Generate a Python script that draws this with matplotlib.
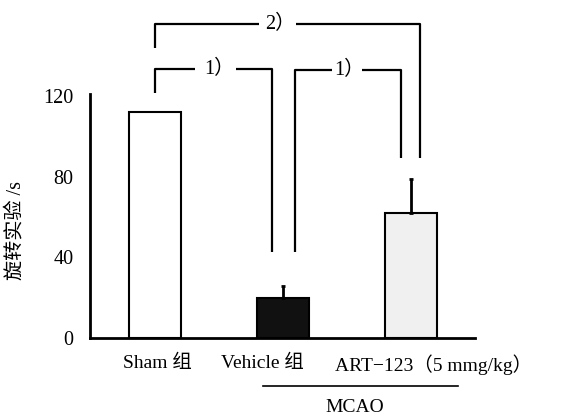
import numpy as np
import matplotlib
matplotlib.use('Agg')
import matplotlib.pyplot as plt

plt.rcParams['font.family'] = ['Liberation Serif', 'Noto Sans CJK SC', 'DejaVu Sans']

groups = ['Sham 组', 'Vehicle 组', 'ART−123（5 mmg/kg）']
means = [112, 20, 62]
errors = [0, 6, 17]
colors = ['white', '#111111', '#f0f0f0']
yticks = [0, 40, 80, 120]

fig = plt.figure(figsize=(5.65, 4.16), dpi=100)
ax = fig.add_axes([90/565, 78/416, 385/565, 244/416])

x = np.arange(len(groups))
ax.bar(x, means, width=0.406, color=colors, edgecolor='black', linewidth=1.5, zorder=2)
ax.errorbar(x[1:], means[1:], yerr=[[0, 0], errors[1:]], fmt='none',
            ecolor='black', elinewidth=2, capsize=1.5, capthick=2, zorder=3)

ax.set_xlim(-0.508, 2.5)
ax.set_ylim(0, 121)
ax.set_yticks(yticks)
ax.set_yticklabels([str(t) for t in yticks], fontsize=14.5)
ax.set_xticks([0.02, 0.84, 2.18])
ax.set_xticklabels(groups, fontsize=14)
ax.tick_params(axis='y', length=0, pad=12)
ax.tick_params(axis='x', length=0, pad=12)
for s in ['top', 'right']:
    ax.spines[s].set_visible(False)
ax.spines['left'].set_linewidth(2)
ax.spines['bottom'].set_linewidth(2)
fig.text(16/565, 1 - 230/416, '旋转实验 /s', fontsize=14.5, rotation=90,
         ha='center', va='center')

# significance brackets: (x0, y0, x1, y1, top, gap_left, gap_right, label, label_x)
def bracket(x0, y0, x1, y1, top, gl, gr, label, lx):
    kw = dict(color='black', lw=1.6, clip_on=False, solid_capstyle='butt')
    ax.plot([x0, x0, gl], [y0, top, top], **kw)
    ax.plot([gr, x1, x1], [top, top, y1], **kw)
    ax.text(lx, top, label, ha='center', va='center', fontsize=14.5)

bracket(0, 121.5, 0.914, 42.6, 133.4, 0.3125, 0.633, '1）', 0.50)
bracket(1.094, 42.6, 1.922, 89.2, 132.9, 1.383, 1.617, '1）', 1.52)
bracket(0, 143.8, 2.07, 89.2, 155.7, 0.8125, 1.10, '2）', 0.98)

# MCAO line
ax.plot([0.844, 2.367], [-24, -24], color='black', lw=1.2, clip_on=False)
ax.text(1.56, -34.5, 'MCAO', ha='center', va='center', fontsize=14)

fig.savefig('out.png', dpi=100)
